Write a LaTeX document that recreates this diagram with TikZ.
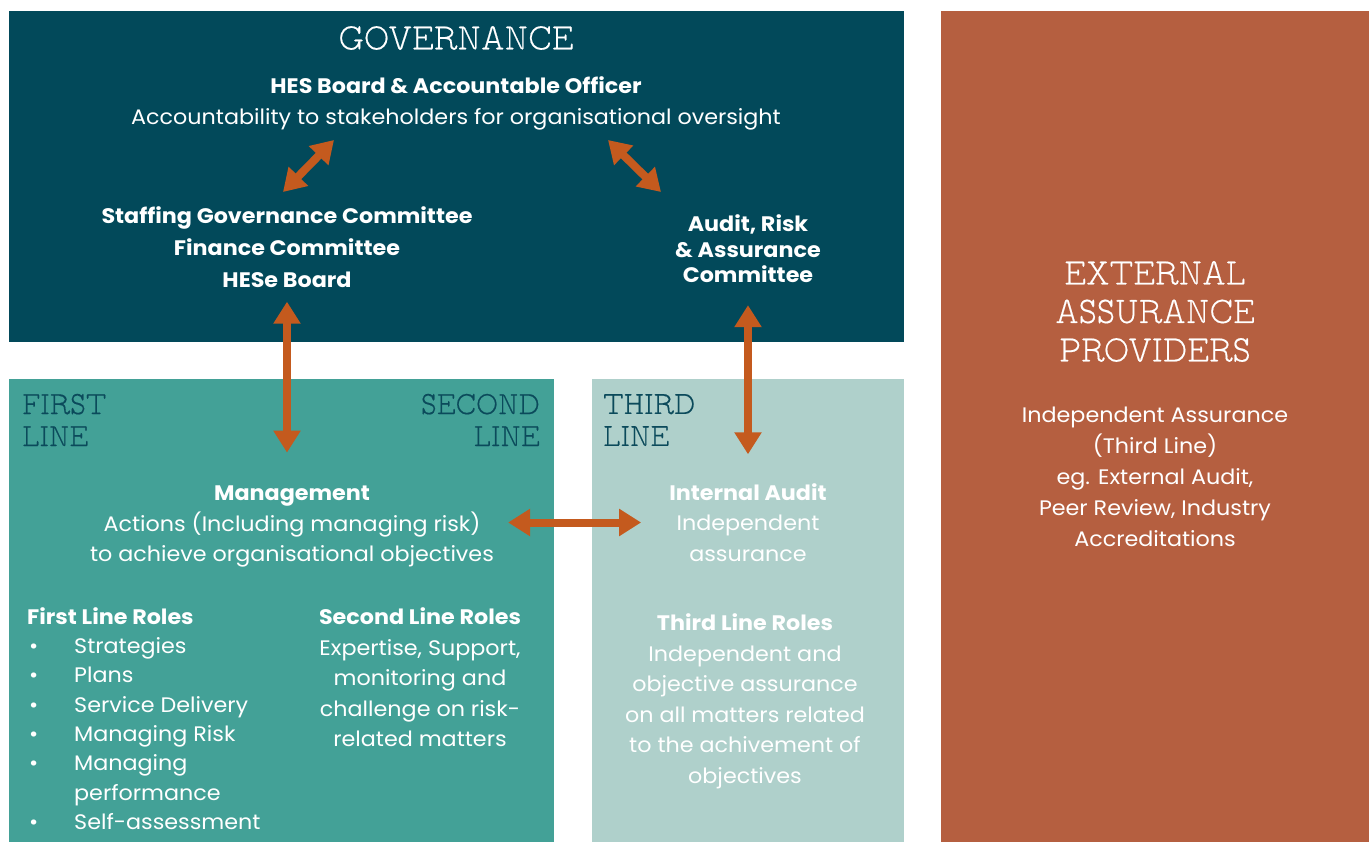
\documentclass[tikz,border=0pt]{standalone}
\usepackage{fontspec}
\setmainfont{Poppins}[FakeStretch=1.06]
\newfontfamily\slabfont{lmmonoproplt10-regular.otf}[FakeStretch=0.83, FakeBold=0.4]
\usetikzlibrary{arrows.meta}

\definecolor{govblue}{HTML}{02495A}
\definecolor{firstgreen}{HTML}{43A197}
\definecolor{thirdgreen}{HTML}{AFD0CB}
\definecolor{extbrown}{HTML}{B55F40}
\definecolor{arroworange}{HTML}{C45A1E}
\definecolor{headteal}{HTML}{0B4A5B}

\tikzstyle{dblarrow} = [line width=8pt, arroworange, {Triangle[width=26pt,length=22pt]}-{Triangle[width=26pt,length=22pt]}]
\tikzstyle{body} = [text=white, align=center, inner sep=0pt, font=\fontsize{21}{30.5}\selectfont]
\tikzstyle{bigslab} = [text=white, align=center, inner sep=0pt, font=\slabfont\fontsize{37.5}{38.5}\selectfont]
\tikzstyle{lineslab} = [text=headteal, inner sep=0pt, font=\slabfont\fontsize{32.5}{32}\selectfont]

\newcommand{\roleitem}[1]{\hspace*{2pt}\makebox[45pt][l]{\textbullet}#1}

\begin{document}
\begin{tikzpicture}[x=1pt,y=-1pt]
\useasboundingbox (0,0) rectangle (1369,842);
\fill[white] (0,0) rectangle (1369,842);

% the four panels
\fill[govblue] (9,11) rectangle (904,342);
\fill[extbrown] (941,11) rectangle (1369,842);
\fill[firstgreen] (9,379) rectangle (554,842);
\fill[thirdgreen] (592,379) rectangle (904,842);

% governance
\node[bigslab] (gov) at (456,38) {GOVERNANCE};
\node[body] (board) at (456,103.5) {\textbf{HES Board \& Accountable Officer}\\
  Accountability to stakeholders for organisational oversight};
\node[body, font=\bfseries\fontsize{21}{32}\selectfont] (committees) at (287,247)
  {Staffing Governance Committee\\Finance Committee\\HESe Board};
\node[body, font=\bfseries\fontsize{21}{25.5}\selectfont] (arac) at (748,249)
  {Audit, Risk\\\& Assurance\\Committee};

% lines of defence
\node[lineslab, align=left, anchor=west] (first) at (22,420) {FIRST\\LINE};
\node[lineslab, align=right, anchor=east] (second) at (540,420) {SECOND\\LINE};
\node[lineslab, align=left, anchor=west] (third) at (603,420) {THIRD\\LINE};

\node[body] (mgmt) at (292,526.5) {\textbf{Management}\\
  Actions (Including managing risk)\\to achieve organisational objectives};
\node[body] (intaudit) at (748,522.5) {\textbf{Internal Audit}\\Independent\\assurance};

\node[body, align=left, anchor=west, font=\fontsize{21}{29.3}\selectfont] (firstroles) at (27,718.5)
  {\textbf{First Line Roles}\\
   \roleitem{Strategies}\\
   \roleitem{Plans}\\
   \roleitem{Service Delivery}\\
   \roleitem{Managing Risk}\\
   \roleitem{Managing}\\
   \hspace*{47pt}performance\\
   \roleitem{Self-assessment}};
\node[body] (secondroles) at (420,677.5) {\textbf{Second Line Roles}\\
  Expertise, Support,\\monitoring and\\challenge on risk-\\related matters};
\node[body] (thirdroles) at (745,701.5) {\textbf{Third Line Roles}\\
  Independent and\\objective assurance\\on all matters related\\to the achivement of\\objectives};

% external providers
\node[bigslab] (ext) at (1155,311.5) {EXTERNAL\\ASSURANCE\\PROVIDERS};
\node[body, font=\fontsize{21}{31}\selectfont] (extroles) at (1155,476.5)
  {Independent Assurance\\(Third Line)\\eg. External Audit,\\Peer Review, Industry\\Accreditations};

% arrows
\coordinate (boardL) at (334,140);
\coordinate (boardR) at (608,140);
\coordinate (commTop) at (283,192);
\coordinate (aracTop) at (661,192);
\draw[dblarrow] (commTop) -- (boardL);
\draw[dblarrow] (boardR) -- (aracTop);
\draw[dblarrow, shorten <=14pt, shorten >=33pt] (committees.south) -- (committees.south |- mgmt.north);
\draw[dblarrow, shorten <=22pt, shorten >=29pt] (arac.south) -- (arac.south |- intaudit.north);
\draw[dblarrow, shorten <=14pt, shorten >=28pt] (mgmt.east |- intaudit.west) -- (intaudit.west);
\end{tikzpicture}
\end{document}
